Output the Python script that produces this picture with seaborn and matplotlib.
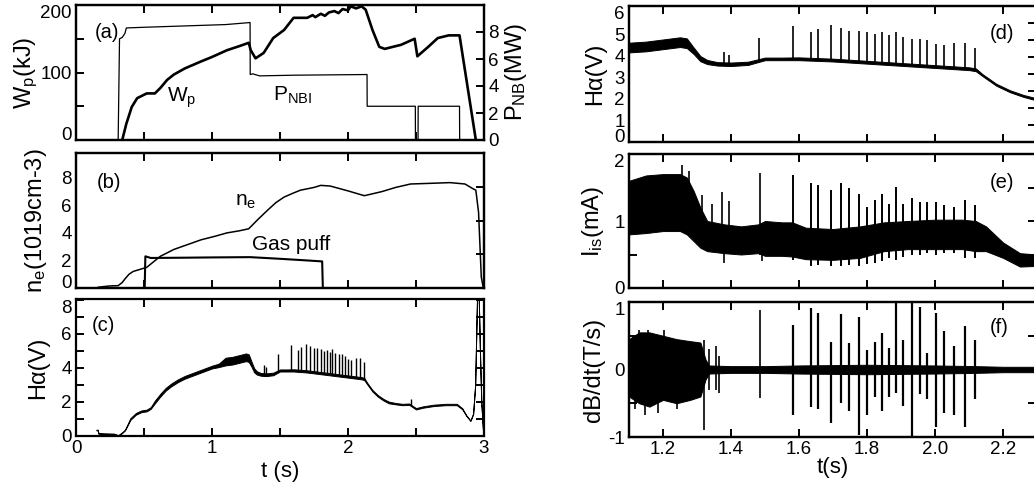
import matplotlib
matplotlib.use("Agg")
import matplotlib.pyplot as plt
import seaborn as sns

# ---------------- data ----------------
# (a) stored energy W_p (kJ) and NBI power (MW)
wp_t = [0.34, 0.37, 0.41, 0.45, 0.52, 0.58, 0.62, 0.67, 0.72, 0.80, 0.915, 1.00, 1.11, 1.20, 1.27,
        1.285, 1.32, 1.38, 1.45, 1.53, 1.60, 1.66, 1.70, 1.74, 1.76, 1.80, 1.83, 1.86, 1.90, 1.93,
        1.96, 2.00, 2.02, 2.06, 2.10, 2.13, 2.18, 2.23, 2.27, 2.39, 2.49, 2.51, 2.59, 2.66, 2.74,
        2.82, 2.94]
wp_v = [0, 24, 49, 62, 69, 69, 77, 89, 97, 106, 116, 123, 133, 139, 144,
        133, 121, 129, 151, 163, 181, 181, 181, 185, 182, 187, 184, 189, 191, 188,
        194, 192, 198, 195, 198, 193, 163, 138, 135, 141, 150, 124, 138, 151, 155,
        155, 0]

pnb_t = [0.31, 0.32, 0.34, 0.36, 0.37, 0.50, 0.80, 1.10, 1.28, 1.281, 1.30, 1.35, 1.60, 2.14,
         2.141, 2.495, 2.496, 2.515, 2.516, 2.82, 2.821]
pnb_v = [0, 7.5, 7.6, 7.9, 8.3, 8.35, 8.45, 8.55, 8.7, 4.85, 4.9, 4.75, 4.8, 4.85,
         2.5, 2.5, 0, 0, 2.5, 2.5, 0]

# (b) line density and gas puff
ne_t = [0.16, 0.20, 0.25, 0.31, 0.34, 0.36, 0.39, 0.42, 0.47, 0.52, 0.57, 0.62, 0.72, 0.82,
        0.92, 1.02, 1.11, 1.20, 1.27, 1.34, 1.41, 1.47, 1.53, 1.60, 1.65, 1.75, 1.80, 1.87,
        2.00, 2.12, 2.25, 2.35, 2.46, 2.61, 2.75, 2.86, 2.92, 2.94, 2.96, 2.98, 2.995]
ne_v = [0.05, 0.10, 0.15, 0.17, 0.40, 0.66, 1.00, 1.20, 1.35, 1.50, 1.90, 2.30, 2.80, 3.15,
        3.50, 3.75, 4.00, 4.15, 4.30, 5.00, 5.66, 6.20, 6.60, 6.90, 7.10, 7.30, 7.45, 7.40,
        7.05, 6.70, 7.00, 7.30, 7.55, 7.60, 7.65, 7.55, 7.20, 7.10, 5.50, 0.80, 0.00]

gas_t = [0.505, 0.51, 0.55, 0.80, 1.00, 1.28, 1.50, 1.70, 1.81, 1.815]
gas_v = [0.0, 2.3, 2.18, 2.2, 2.22, 2.24, 2.12, 2.0, 1.93, 0.0]

# (c)/(d) H-alpha (V): noise band, ELM spikes, single blips
ha_t = [0.15, 0.16, 0.165, 0.28, 0.31, 0.34, 0.36, 0.40, 0.44, 0.48, 0.52, 0.55, 0.58, 0.62,
        0.66, 0.70, 0.75, 0.80, 0.85, 0.90, 0.95, 1.00, 1.05, 1.10, 1.15, 1.20, 1.25, 1.27,
        1.29, 1.31, 1.33, 1.36, 1.40, 1.45, 1.50, 1.55, 1.60, 1.70, 1.80, 1.90, 2.00, 2.10,
        2.12, 2.14, 2.18, 2.22, 2.26, 2.30, 2.35, 2.40, 2.45, 2.50, 2.55, 2.63, 2.72, 2.80,
        2.84, 2.87, 2.90, 2.92, 2.935, 2.95, 2.96, 2.97, 2.98, 2.995]
ha_lo = [0.33, 0.33, 0.13, 0.10, 0.01, 0.18, 0.33, 0.95, 1.25, 1.40, 1.45, 1.60, 1.92, 2.32,
         2.67, 2.92, 3.17, 3.37, 3.52, 3.67, 3.82, 3.97, 4.05, 4.15, 4.20, 4.30, 4.40, 4.35,
         4.08, 3.74, 3.61, 3.54, 3.52, 3.57, 3.79, 3.79, 3.79, 3.73, 3.63, 3.53, 3.43, 3.33,
         3.28, 3.05, 2.61, 2.31, 2.09, 1.92, 1.86, 1.81, 1.83, 1.56, 1.66, 1.76, 1.81, 1.81,
         1.57, 1.18, 0.89, 1.29, 2.99, 8.59, 8.59, 4.99, 1.99, 0.00]
ha_hi = [0.37, 0.37, 0.17, 0.14, 0.05, 0.22, 0.37, 1.05, 1.35, 1.50, 1.55, 1.70, 2.08, 2.48,
         2.83, 3.08, 3.33, 3.53, 3.68, 3.83, 3.98, 4.13, 4.25, 4.60, 4.65, 4.75, 4.85, 4.80,
         4.38, 3.98, 3.80, 3.70, 3.68, 3.72, 3.91, 3.91, 3.92, 3.86, 3.76, 3.66, 3.56, 3.46,
         3.41, 3.14, 2.70, 2.40, 2.18, 2.02, 1.94, 1.89, 1.91, 1.64, 1.74, 1.84, 1.89, 1.89,
         1.63, 1.22, 0.91, 1.31, 3.01, 8.61, 8.61, 5.01, 2.01, 0.01]

elm_t = [1.582, 1.634, 1.657, 1.693, 1.723, 1.748, 1.775, 1.801, 1.823, 1.845, 1.866,
         1.885, 1.907, 1.932, 1.956, 1.976, 2.002, 2.025, 2.056, 2.087, 2.118]
ha_base = [3.80, 3.85, 3.85, 3.82, 3.80, 3.78, 3.75, 3.72, 3.70, 3.68, 3.65,
           3.62, 3.60, 3.57, 3.55, 3.52, 3.50, 3.47, 3.43, 3.40, 3.35]
ha_peak = [5.37, 5.08, 5.23, 5.40, 5.26, 5.15, 5.15, 5.11, 5.01, 5.08, 4.96,
           5.11, 4.86, 4.79, 4.79, 4.71, 4.52, 4.49, 4.57, 4.57, 4.35]

blip_t = [1.38, 1.395, 1.482, 2.465]
blip_base = [3.55, 3.55, 3.75, 1.85]
blip_peak = [4.15, 4.05, 4.80, 2.20]

# (e) ion saturation current (mA)
is_t = [1.10, 1.15, 1.20, 1.25, 1.27, 1.29, 1.31, 1.33, 1.38, 1.43, 1.48, 1.50, 1.55, 1.58,
        1.62, 1.70, 1.78, 1.85, 1.92, 2.00, 2.08, 2.12, 2.15, 2.20, 2.25, 2.30]
is_lo = [0.80, 0.82, 0.85, 0.85, 0.80, 0.70, 0.60, 0.55, 0.52, 0.50, 0.52, 0.48, 0.48, 0.47,
         0.43, 0.42, 0.45, 0.55, 0.58, 0.58, 0.58, 0.55, 0.55, 0.45, 0.32, 0.33]
is_hi = [1.60, 1.68, 1.70, 1.70, 1.65, 1.45, 1.20, 1.00, 0.95, 0.92, 0.95, 1.00, 0.98, 0.98,
         0.90, 0.88, 0.92, 0.98, 1.00, 1.02, 1.02, 1.00, 0.92, 0.68, 0.52, 0.50]
is_peak = [1.69, 1.56, 1.54, 1.46, 1.56, 1.49, 1.41, 1.21, 1.31, 1.41, 1.26,
           1.51, 1.26, 1.34, 1.29, 1.29, 1.29, 1.24, 1.21, 1.31, 1.24]
is_dip = [0.42, 0.33, 0.35, 0.33, 0.33, 0.35, 0.33, 0.36, 0.38, 0.40, 0.45,
          0.42, 0.47, 0.50, 0.50, 0.52, 0.50, 0.52, 0.52, 0.45, 0.45]
is_x_t = [1.256, 1.275, 1.315, 1.345, 1.374, 1.38, 1.395, 1.485, 1.49]
is_x_lo = [0.85, 0.80, 0.60, 0.55, 0.55, 0.37, 0.55, 0.50, 0.40]
is_x_hi = [1.84, 1.74, 1.39, 1.26, 1.44, 0.90, 1.30, 1.72, 0.90]

# (f) magnetic probe dB/dt (T/s)
db_t = [1.10, 1.13, 1.16, 1.20, 1.24, 1.28, 1.31, 1.325, 1.335, 1.40, 1.50, 1.60, 1.80,
        2.00, 2.12, 2.20, 2.30]
db_lo = [-0.40, -0.50, -0.55, -0.45, -0.50, -0.45, -0.40, -0.15, -0.06, -0.05, -0.05, -0.06,
         -0.07, -0.06, -0.05, -0.04, -0.04]
db_hi = [0.45, 0.55, 0.55, 0.50, 0.45, 0.42, 0.40, 0.15, 0.06, 0.05, 0.05, 0.06,
         0.07, 0.06, 0.05, 0.04, 0.04]
db_top = [0.66, 0.91, 0.83, 0.41, 0.82, 0.39, 0.78, 0.29, 0.41, 0.54, 0.32,
          0.98, 0.44, 0.98, 0.93, 0.24, 0.84, 0.57, 0.35, 0.64, 0.44]
db_bot = [-0.67, -0.56, -0.58, -0.79, -0.50, -0.61, -0.97, -0.67, -0.40, -0.62, -0.40,
          -0.35, -0.54, -1.00, -0.37, -0.44, -0.85, -0.64, -0.67, -0.85, -0.44]
db_x_t = [1.117, 1.128, 1.146, 1.157, 1.185, 1.203, 1.24, 1.32, 1.335, 1.355, 1.365, 1.485]
db_x_lo = [-0.59, -0.30, -0.67, -0.30, -0.64, -0.30, -0.59, -0.89, -0.30, -0.30, -0.35, -0.42]
db_x_hi = [0.30, 0.58, 0.30, 0.59, 0.40, 0.59, 0.35, 0.44, 0.30, 0.35, 0.20, 0.88]

# ---------------- style ----------------
sns.set_style("ticks")
plt.rcParams['font.family'] = ['Liberation Sans', 'DejaVu Sans']
plt.rcParams['mathtext.default'] = 'regular'
plt.rcParams['font.size'] = 13
plt.rcParams['axes.unicode_minus'] = False
plt.rcParams['axes.linewidth'] = 1.6
plt.rcParams['axes.edgecolor'] = 'black'
plt.rcParams['axes.labelsize'] = 17
plt.rcParams['text.color'] = 'black'
plt.rcParams['axes.labelcolor'] = 'black'
for a in ('xtick', 'ytick'):
    plt.rcParams[a + '.direction'] = 'in'
    plt.rcParams[a + '.color'] = 'black'
    plt.rcParams[a + '.major.size'] = 6
    plt.rcParams[a + '.major.width'] = 1.4
    plt.rcParams[a + '.labelsize'] = 13.5
    plt.rcParams[a + '.major.pad'] = 3

FW, FH = 1034, 488
fig = plt.figure(figsize=(FW / 100, FH / 100), dpi=100)


def box(x0, x1, y0, y1):
    return [x0 / FW, 1 - y1 / FH, (x1 - x0) / FW, (y1 - y0) / FH]


ax_a = fig.add_axes(box(76, 484, 5, 140))
ax_b = fig.add_axes(box(76, 484, 153, 288))
ax_c = fig.add_axes(box(76, 484, 299, 436))
ax_d = fig.add_axes(box(629, 1036, 6, 142))
ax_e = fig.add_axes(box(629, 1036, 154, 288))
ax_f = fig.add_axes(box(629, 1036, 302, 437))


def band(ax, t, lo, hi):
    ax.fill_between(t, lo, hi, color='k', lw=0.7)


def twin_ticks(ax, top, ticks):
    tw = ax.twinx()
    tw.set_ylim(0, top)
    tw.set_yticks(ticks)
    tw.set_yticklabels([])
    return tw


def nudge(ax, first=None, last=None):
    # end labels pulled inside the frame, as in the reference
    labs = ax.get_yticklabels()
    if first:
        labs[0].set_va('baseline')
    if last:
        labs[-1].set_va('top')


# ---------------- (a) ----------------
sns.lineplot(x=wp_t, y=wp_v, ax=ax_a, color='k', lw=1.9, estimator=None, sort=False)
ax_a.set_ylim(0, 200)
ax_a.set_yticks([0, 50, 100, 150, 200])
ax_a.set_yticklabels(['0', '', '100', '', '200'])
nudge(ax_a, True, True)
ax_a.set_ylabel('W$_p$(kJ)', labelpad=0)
ax_ar = ax_a.twinx()
sns.lineplot(x=pnb_t, y=pnb_v, ax=ax_ar, color='k', lw=0.9, estimator=None, sort=False)
ax_ar.set_ylim(0, 10)
ax_ar.set_yticks([0, 2, 4, 6, 8])
ax_ar.set_ylabel('P$_{NB}$(MW)', labelpad=3)
ax_a.text(0.045, 0.80, '(a)', transform=ax_a.transAxes, va='center', fontsize=14.5)
ax_a.text(0.223, 0.31, 'W$_p$', transform=ax_a.transAxes, va='center', fontsize=15)
ax_a.text(0.483, 0.33, 'P$_{NBI}$', transform=ax_a.transAxes, va='center', fontsize=15)

# ---------------- (b) ----------------
sns.lineplot(x=ne_t, y=ne_v, ax=ax_b, color='k', lw=1.1, estimator=None, sort=False)
sns.lineplot(x=gas_t, y=gas_v, ax=ax_b, color='k', lw=1.5, estimator=None, sort=False)
ax_b.set_ylim(0, 9.8)
ax_b.set_yticks([0, 2, 4, 6, 8])
ax_b.tick_params(axis='y', length=0)
nudge(ax_b, True, False)
ax_b.set_ylabel('n$_e$(1019cm-3)', labelpad=9)
twin_ticks(ax_b, 4, [1, 2, 3])
ax_b.text(0.05, 0.78, '(b)', transform=ax_b.transAxes, va='center', fontsize=14.5)
ax_b.text(0.39, 0.64, 'n$_e$', transform=ax_b.transAxes, va='center', fontsize=15)
ax_b.text(0.431, 0.32, 'Gas puff', transform=ax_b.transAxes, va='center', fontsize=15)

# ---------------- (c) ----------------
band(ax_c, ha_t, ha_lo, ha_hi)
ax_c.vlines(elm_t, ha_base, ha_peak, color='k', lw=1.0)
ax_c.vlines(blip_t, blip_base, blip_peak, color='k', lw=1.0)
ax_c.set_ylim(0, 8.05)
ax_c.set_yticks(range(0, 9))
ax_c.set_yticklabels(['0', '', '2', '', '4', '', '6', '', '8'])
nudge(ax_c, False, True)
ax_c.tick_params(axis='y', right=True)
ax_c.set_ylabel('H\u03b1(V)', labelpad=9)
ax_c.text(0.038, 0.81, '(c)', transform=ax_c.transAxes, va='center', fontsize=14.5)

for ax in (ax_a, ax_b, ax_c):
    ax.set_xlim(0, 3)
    ax.set_xticks([0, 0.5, 1, 1.5, 2, 2.5, 3])
    ax.tick_params(axis='x', top=True)
    ax.set_xlabel('')
for ax in (ax_a, ax_b):
    ax.set_xticklabels([])
ax_c.set_xticklabels(['0', '', '1', '', '2', '', '3'])
ax_c.set_xlabel('t (s)', labelpad=3, fontsize=16)

# ---------------- (d) ----------------
band(ax_d, ha_t, ha_lo, ha_hi)
ax_d.vlines(elm_t, ha_base, ha_peak, color='k', lw=1.2)
ax_d.vlines(blip_t, blip_base, blip_peak, color='k', lw=1.2)
ax_d.set_ylim(0, 6.3)
ax_d.set_yticks(range(0, 7))
ax_d.tick_params(axis='y', length=0)
nudge(ax_d, True, False)
ax_d.set_ylabel('H\u03b1(V)', labelpad=6)
twin_ticks(ax_d, 8, [1, 2, 3, 4, 5, 6, 7])
ax_d.text(0.887, 0.80, '(d)', transform=ax_d.transAxes, va='center', fontsize=14.5)

# ---------------- (e) ----------------
band(ax_e, is_t, is_lo, is_hi)
ax_e.vlines(elm_t, is_dip, is_peak, color='k', lw=1.4)
ax_e.vlines(is_x_t, is_x_lo, is_x_hi, color='k', lw=1.2)
ax_e.set_ylim(0, 2)
ax_e.set_yticks([0, 0.5, 1, 1.5, 2])
ax_e.set_yticklabels(['0', '', '1', '', '2'])
nudge(ax_e, False, True)
ax_e.set_ylabel('I$_{is}$(mA)', labelpad=6)
twin_ticks(ax_e, 4, [1, 2, 3])
ax_e.text(0.887, 0.79, '(e)', transform=ax_e.transAxes, va='center', fontsize=14.5)

# ---------------- (f) ----------------
band(ax_f, db_t, db_lo, db_hi)
ax_f.vlines(elm_t, db_bot, db_top, color='k', lw=1.6)
ax_f.vlines(db_x_t, db_x_lo, db_x_hi, color='k', lw=1.2)
ax_f.set_ylim(-1, 1)
ax_f.set_yticks([-1, -0.5, 0, 0.5, 1])
ax_f.set_yticklabels(['-1', '', '0', '', '1'])
nudge(ax_f, False, True)
ax_f.set_ylabel('dB/dt(T/s)', labelpad=2)
twin_ticks(ax_f, 4, [1, 2, 3])
ax_f.text(0.887, 0.81, '(f)', transform=ax_f.transAxes, va='center', fontsize=14.5)

for ax in (ax_d, ax_e, ax_f):
    ax.set_xlim(1.1, 1.1 + 407 / 340)
    ax.set_xticks([1.2, 1.4, 1.6, 1.8, 2.0, 2.2])
    ax.tick_params(axis='x', top=True)
for ax in (ax_d, ax_e):
    ax.set_xticklabels([])
ax_f.set_xticklabels(['1.2', '1.4', '1.6', '1.8', '2.0', '2.2'])
ax_f.set_xlabel('t(s)', labelpad=-1, fontsize=16)

fig.savefig('out.png', dpi=100)
